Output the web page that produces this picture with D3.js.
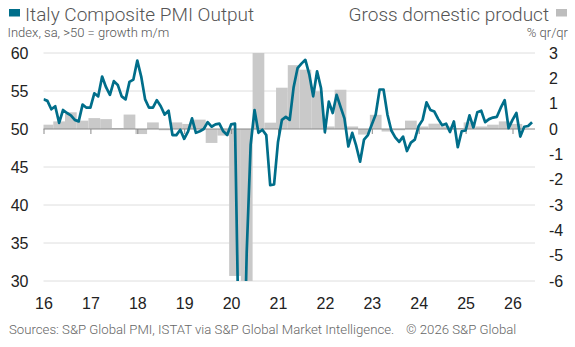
<!DOCTYPE html>
<html>
<head>
<meta charset="utf-8">
<script src="https://cdn.jsdelivr.net/npm/d3@7"></script>
<style>
  body { margin: 0; background: #fff; }
  svg { display: block; }
</style>
</head>
<body>
<script>
// monthly composite PMI, Jan 2016 onwards
var pmi2016 = [53.9, 53.7, 52.6, 53.0, 50.8, 52.5, 52.1, 51.8, 51.2, 51.0, 53.2, 52.8];
var pmi2017 = [52.8, 54.7, 54.3, 56.9, 55.5, 54.5, 56.3, 55.8, 54.3, 53.9, 56.2, 56.5];
var pmi2018 = [59.0, 56.9, 53.9, 52.8, 52.8, 53.8, 53.0, 51.9, 52.4, 49.2, 49.2, 49.9];
var pmi2019 = [48.7, 49.7, 51.4, 49.5, 49.7, 50.0, 50.9, 50.3, 50.6, 50.7, 49.7, 49.2];
var pmi2020 = [50.6, 50.7, 20.2, 10.9, 33.9, 47.9, 52.5, 49.5, 49.9, 49.2, 42.6, 42.7];
var pmi2021 = [48.3, 51.2, 51.6, 51.2, 55.5, 58.0, 58.6, 59.1, 57.2, 54.3, 57.6, 55.4];
var pmi2022 = [49.6, 53.6, 52.1, 54.5, 52.9, 51.4, 47.7, 49.5, 47.8, 45.7, 48.6, 49.2];
var pmi2023 = [50.6, 51.9, 55.2, 55.2, 51.9, 49.8, 48.9, 48.3, 49.0, 47.1, 48.2, 48.6];
var pmi2024 = [50.4, 51.2, 53.5, 52.5, 52.3, 51.3, 50.5, 50.7, 49.6, 51.0, 47.6, 49.7];
var pmi2025 = [49.8, 51.8, 50.2, 52.2, 52.4, 50.9, 51.3, 51.5, 51.6, 52.8, 53.8, 50.1];
var pmi2026 = [51.2, 52.1, 49.0, 50.3, 50.4, 50.9];

// quarterly GDP % q/q, Q1 2016 onwards
var gdp2016 = [0.17, 0.30, 0.66, 0.33];
var gdp2017 = [0.43, 0.39, 0.04, 0.57];
var gdp2018 = [-0.20, 0.26, -0.05, 0.26];
var gdp2019 = [0.20, 0.37, -0.55, -0.26];
var gdp2020 = [-5.8, -13.0, 15.5, 0.25];
var gdp2021 = [1.63, 2.52, 2.34, 1.49];
var gdp2022 = [0.10, 1.55, 0.10, -0.22];
var gdp2023 = [0.56, -0.10, -0.05, 0.33];
var gdp2024 = [0.10, 0.21, 0.10, 0.04];
var gdp2025 = [0.26, 0.10, 0.17, 0.30];
var gdp2026 = [0.20];

var years = [2016, 2017, 2018, 2019, 2020, 2021, 2022, 2023, 2024, 2025, 2026];
var leftTicks = [30, 35, 40, 45, 50, 55, 60];
var rightTicks = [-6, -5, -4, -3, -2, -1, 0, 1, 2, 3];

var pmiByYear = [pmi2016, pmi2017, pmi2018, pmi2019, pmi2020, pmi2021, pmi2022, pmi2023, pmi2024, pmi2025, pmi2026];
var gdpByYear = [gdp2016, gdp2017, gdp2018, gdp2019, gdp2020, gdp2021, gdp2022, gdp2023, gdp2024, gdp2025, gdp2026];

var pmi = [], gdp = [];
pmiByYear.forEach(function(arr, i) {
    arr.forEach(function(v, m) { pmi.push({ t: years[i] + m / 12, v: v }); });
});
gdpByYear.forEach(function(arr, i) {
    arr.forEach(function(v, q) { gdp.push({ t: years[i] + (3 * q + 1) / 12, v: v }); });
});

const W = 575, H = 347;
const plotL = 43.5, plotR = 535, plotT = 53, plotB = 281;
const teal = "#006e8a", barGray = "#c9c9c9";
const tickFont = "'Liberation Sans', Arial, sans-serif";
const textFont = "Roboto, 'Open Sans', sans-serif";

const svg = d3.select("body").append("svg")
    .attr("width", W)
    .attr("height", H);

const x = d3.scaleLinear().domain([2016, 2026]).range([plotL, 512.5]);
const yL = d3.scaleLinear().domain([30, 60]).range([plotB, plotT]);
const yR = d3.scaleLinear().domain([-6, 3]).range([plotB, plotT]);

svg.append("clipPath").attr("id", "plot")
    .append("rect")
    .attr("x", plotL).attr("y", plotT)
    .attr("width", plotR - plotL).attr("height", plotB - plotT);

// gridlines
svg.append("g")
    .selectAll("line")
    .data(leftTicks.filter(d => d != 50))
    .enter()
    .append("line")
    .attr("x1", plotL).attr("x2", plotR)
    .attr("y1", d => yL(d)).attr("y2", d => yL(d))
    .attr("stroke", "#dedede")
    .attr("stroke-width", 1);

// GDP bars
var halfQ = 1.5 / 12;
svg.append("g")
    .attr("clip-path", "url(#plot)")
    .selectAll("rect")
    .data(gdp)
    .enter()
    .append("rect")
    .attr("x", d => x(d.t - halfQ))
    .attr("width", d => x(d.t + halfQ) - x(d.t - halfQ))
    .attr("y", d => d.v >= 0 ? yR(d.v) : yR(0))
    .attr("height", d => Math.abs(yR(d.v) - yR(0)))
    .attr("fill", barGray);

// 50 / zero line and year ticks
svg.append("line")
    .attr("x1", plotL).attr("x2", plotR)
    .attr("y1", yL(50)).attr("y2", yL(50))
    .attr("stroke", "#8a8a8a")
    .attr("stroke-width", 1.2);

svg.append("g")
    .attr("transform", "translate(0," + yL(50) + ")")
    .call(d3.axisBottom(x).tickValues(years).tickFormat("").tickSize(5))
    .call(g => g.select(".domain").remove())
    .call(g => g.selectAll("line").attr("stroke", "#8a8a8a"));

// PMI line
var line = d3.line()
    .x(d => x(d.t))
    .y(d => yL(d.v));

svg.append("path")
    .attr("clip-path", "url(#plot)")
    .datum(pmi)
    .attr("d", line)
    .attr("fill", "none")
    .attr("stroke", teal)
    .attr("stroke-width", 2.7)
    .attr("stroke-linejoin", "round");

// axes
svg.append("g")
    .attr("transform", "translate(" + plotL + ",0)")
    .call(d3.axisLeft(yL).tickValues(leftTicks).tickSize(0).tickPadding(15))
    .call(g => g.select(".domain").remove());

svg.append("g")
    .attr("transform", "translate(" + plotR + ",0)")
    .call(d3.axisRight(yR).tickValues(rightTicks).tickSize(0).tickPadding(14).tickFormat(d => String(d)))
    .call(g => g.select(".domain").remove());

svg.append("g")
    .attr("transform", "translate(0," + plotB + ")")
    .call(d3.axisBottom(x).tickValues(years).tickSize(0).tickPadding(17).tickFormat(d => String(d).slice(2)))
    .call(g => g.select(".domain").remove());

svg.selectAll(".tick text")
    .attr("font-family", tickFont)
    .attr("font-size", 16)
    .attr("fill", "#222");

// legends / titles
svg.append("rect").attr("x", 9).attr("y", 9).attr("width", 11).attr("height", 7.5).attr("fill", teal);
svg.append("text").attr("x", 25).attr("y", 20.5)
    .attr("font-family", textFont).attr("font-weight", 300).attr("font-size", 19)
    .attr("fill", "#555").text("Italy Composite PMI Output");
svg.append("text").attr("x", 7.5).attr("y", 36.5)
    .attr("font-family", textFont).attr("font-weight", 300).attr("font-size", 13)
    .attr("fill", "#555").text("Index, sa, >50 = growth m/m");

svg.append("rect").attr("x", 556).attr("y", 9).attr("width", 11).attr("height", 7.5).attr("fill", "#bdbdbd");
svg.append("text").attr("x", 549).attr("y", 20.5).attr("text-anchor", "end")
    .attr("font-family", textFont).attr("font-weight", 300).attr("font-size", 19)
    .attr("fill", "#555").text("Gross domestic product");
svg.append("text").attr("x", 568).attr("y", 36.5).attr("text-anchor", "end")
    .attr("font-family", textFont).attr("font-weight", 300).attr("font-size", 13)
    .attr("fill", "#555").text("% qr/qr");

svg.append("text").attr("x", 9).attr("y", 334)
    .attr("font-family", textFont).attr("font-weight", 300).attr("font-size", 13.2)
    .attr("fill", "#666").text("Sources: S&P Global PMI, ISTAT via S&P Global Market Intelligence.");
svg.append("text").attr("x", 406).attr("y", 334)
    .attr("font-family", textFont).attr("font-weight", 300).attr("font-size", 13.2)
    .attr("fill", "#666").text("© 2026 S&P Global");
</script>
</body>
</html>
